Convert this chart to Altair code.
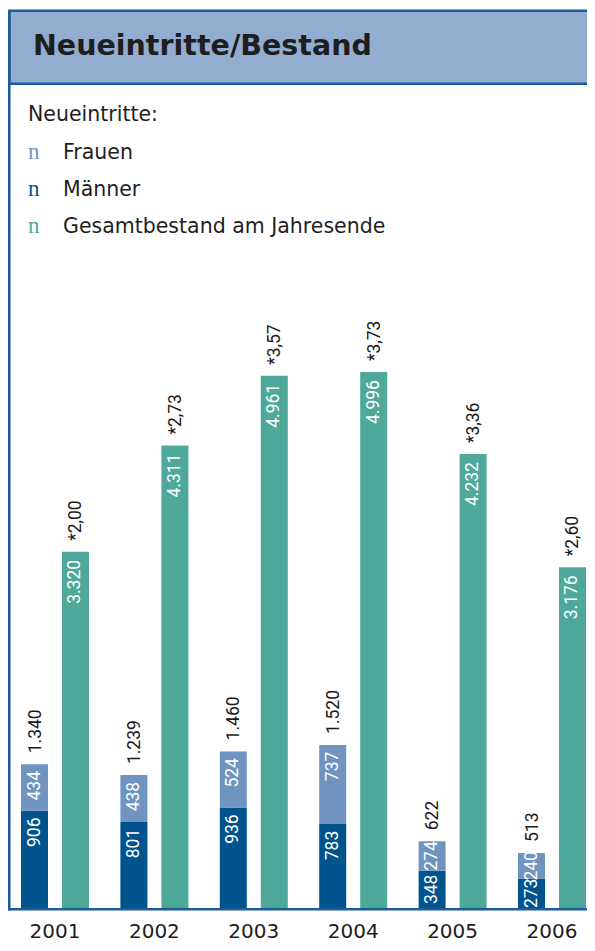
import altair as alt
import pandas as pd

# ---- data ----
years = ["2001", "2002", "2003", "2004", "2005", "2006"]
frauen = [434, 438, 524, 737, 274, 240]
maenner = [906, 801, 936, 783, 348, 273]
neu_gesamt = [1340, 1239, 1460, 1520, 622, 513]
bestand = [3320, 4311, 4961, 4996, 4232, 3176]
quote = [2.00, 2.73, 3.57, 3.73, 3.36, 2.60]

title_text = "Neueintritte/Bestand"
legend_head = "Neueintritte:"
legend_labels = ["Frauen", "Männer", "Gesamtbestand am Jahresende"]
colors = ["#7094C0", "#00538C", "#4FA99B"]
frame_col = "#1B5C99"
head_fill = "#92ADCF"


def de_int(v):
    return f"{v:,}".replace(",", ".")


def de_quote(q):
    return "*" + f"{q:.2f}".replace(".", ",")


rows = []
tops = []
for i, y in enumerate(years):
    rows.append(dict(year=y, grp="neu", serie="Männer", lo=0, hi=maenner[i], label=de_int(maenner[i])))
    rows.append(dict(year=y, grp="neu", serie="Frauen", lo=maenner[i], hi=maenner[i] + frauen[i], label=de_int(frauen[i])))
    rows.append(dict(year=y, grp="ges", serie="Gesamtbestand am Jahresende", lo=0, hi=bestand[i], label=de_int(bestand[i])))
    tops.append(dict(year=y, grp="neu", top=neu_gesamt[i], text=de_int(neu_gesamt[i])))
    tops.append(dict(year=y, grp="ges", top=bestand[i], text=de_quote(quote[i])))
bars_df = pd.DataFrame(rows)
tops_df = pd.DataFrame(tops)

W, H = 576, 900
YMAX = 8390

xenc = alt.X(
    "year:N",
    scale=alt.Scale(domain=years, range=[-5.7, 590.7], paddingInner=0, paddingOuter=0),
    axis=alt.Axis(title=None, ticks=False, domain=False, labelAngle=0,
                  labelFont="DejaVu Sans", labelFontSize=20, labelColor="#1e1e1e",
                  labelPadding=13),
)
xoff = alt.XOffset("grp:N", scale=alt.Scale(domain=["neu", "ges"], paddingInner=0.3415, paddingOuter=0.383))
yscale = alt.Scale(domain=[0, YMAX], nice=False, zero=True)

base = alt.Chart(bars_df)

bars = base.mark_bar().encode(
    x=xenc, xOffset=xoff,
    y=alt.Y("lo:Q", scale=yscale, axis=None),
    y2="hi:Q",
    color=alt.Color("serie:N", scale=alt.Scale(domain=legend_labels, range=colors), legend=None),
)

seg_labels = base.transform_filter(alt.datum.grp == "neu").transform_calculate(
    ly="max(datum.hi - 200, (datum.lo + datum.hi) / 2)"
).mark_text(angle=270, align="center", baseline="middle", font="Roboto", fontSize=17.5,
            color="white").encode(
    x=xenc, xOffset=xoff, y=alt.Y("ly:Q", scale=yscale), text="label:N")

ges_labels = base.transform_filter(alt.datum.grp == "ges").mark_text(
    angle=270, align="right", baseline="middle", dx=-8, font="Roboto", fontSize=17.5,
    color="white").encode(x=xenc, xOffset=xoff, y=alt.Y("hi:Q", scale=yscale), text="label:N")

top_labels = alt.Chart(tops_df).mark_text(
    angle=270, align="left", baseline="middle", dx=11, dy=1, font="Roboto", fontSize=17.5,
    color="#1a1a1a").encode(x=xenc, xOffset=xoff, y=alt.Y("top:Q", scale=yscale), text="text:N")

one = pd.DataFrame({"k": [0]})
header = alt.Chart(one).mark_rect(fill=head_fill, stroke=frame_col, strokeWidth=2.6).encode(
    x=alt.value(-1.75), x2=alt.value(620), y=alt.value(2.7), y2=alt.value(75.8))
title = alt.Chart(pd.DataFrame({"t": [title_text]})).mark_text(
    align="left", baseline="alphabetic", font="DejaVu Sans", fontWeight="bold", fontSize=28.5,
    color="#1e1e1e").encode(x=alt.value(22), y=alt.value(47), text="t:N")

leg_layers = [alt.Chart(pd.DataFrame({"t": [legend_head]})).mark_text(
    align="left", baseline="middle", font="DejaVu Sans", fontSize=20.5, color="#1e1e1e").encode(
    x=alt.value(17), y=alt.value(107), text="t:N")]
leg_y = [145, 182, 219]
for lab, col, yy in zip(legend_labels, colors, leg_y):
    leg_layers.append(alt.Chart(pd.DataFrame({"t": ["n"]})).mark_text(
        align="left", baseline="middle", font="Liberation Serif", fontSize=23, color=col).encode(
        x=alt.value(17), y=alt.value(yy - 1), text="t:N"))
    leg_layers.append(alt.Chart(pd.DataFrame({"t": [lab]})).mark_text(
        align="left", baseline="middle", font="DejaVu Sans", fontSize=20.5, color="#1e1e1e").encode(
        x=alt.value(52), y=alt.value(yy), text="t:N"))

left_line = alt.Chart(one).mark_rule(stroke=frame_col, strokeWidth=2.6).encode(
    x=alt.value(-1.75), y=alt.value(2.7), y2=alt.value(902.5))
base_line = alt.Chart(one).mark_rule(stroke=frame_col, strokeWidth=2.6).encode(
    x=alt.value(-3), x2=alt.value(620), y=alt.value(901.2))

chart = alt.layer(
    header, title, *leg_layers, bars, seg_labels, ges_labels, top_labels, left_line, base_line
).properties(
    width=W, height=H,
    autosize=alt.AutoSizeParams(type="none"),
    padding={"left": 3, "top": 0, "right": 0, "bottom": 35},
    background="white",
).configure_view(stroke=None)

chart.save("out.html", embed_options={"renderer": "svg", "actions": False})
